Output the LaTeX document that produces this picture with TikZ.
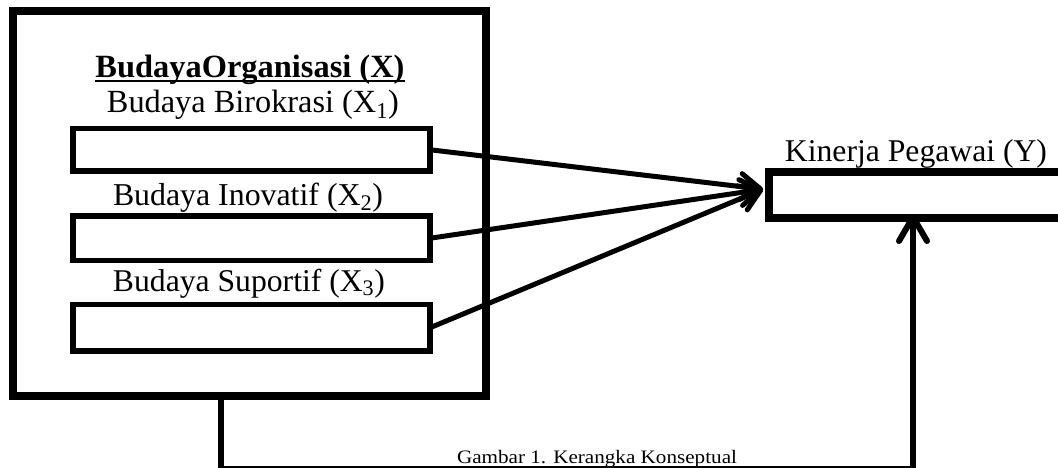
\documentclass[tikz,border=0pt]{standalone}
\usepackage{fontspec}
\setmainfont{Liberation Serif}
\usetikzlibrary{arrows.meta,calc}

% scale a line of text to a given width
\newcommand\fitw[2]{\resizebox{#1}{!}{#2}}
% stretch a line of text to a given width, keeping its height
\newcommand\fitwh[2]{\resizebox{#1}{\height}{#2}}
% text with a heavy rule under it
\newcommand\ulbox[1]{\setbox0\hbox{#1}\rlap{\rule[-3pt]{\wd0}{1.7pt}}\box0}

\begin{document}
\begin{tikzpicture}[x=1pt,y=-1pt,
  frame/.style={draw, line width=8pt, inner sep=0pt, outer sep=0pt},
  field/.style={draw, line width=5.5pt, inner sep=0pt, outer sep=0pt, minimum width=357pt},
  label/.style={anchor=base, inner sep=0pt, font=\fontsize{24}{28}\selectfont},
  note/.style={anchor=base, inner sep=0pt, font=\fontsize{19}{22}\selectfont},
  link/.style={line width=5pt, -{Straight Barb[length=20pt,width=26pt,round]}},
  feedback/.style={line width=6pt, line join=miter, -{Straight Barb[length=24pt,width=28pt,round]}}]

\useasboundingbox (0,0) rectangle (1058,468);

% organisational culture block
\node[frame, minimum width=473pt, minimum height=384.5pt] (org) at (249.5,203.75) {};
\node[label] (orgt) at (250,78) {\fitw{309pt}{\ulbox{\textbf{BudayaOrganisasi (X)}}}};

\node[label] (x1t) at (253,113) {\fitw{292pt}{Budaya Birokrasi (X\textsubscript{1})}};
\node[field, minimum height=42.5pt] (x1) at (251.5,149.75) {};

\node[label] (x2t) at (248,206) {\fitw{270pt}{Budaya Inovatif (X\textsubscript{2})}};
\node[field, minimum height=44.5pt] (x2) at (251.5,238.25) {};

\node[label] (x3t) at (249,291) {\fitw{272pt}{Budaya Suportif (X\textsubscript{3})}};
\node[field, minimum height=46.5pt] (x3) at (251.5,327.75) {};

% employee performance block (runs off the right edge)
\node[frame, minimum width=301pt, minimum height=45.5pt] (kin) at (919.5,195.25) {};
\node[label] (kint) at (916,162) {\fitw{262pt}{Kinerja Pegawai (Y)}};

% influence arrows
\coordinate (tip) at ($(kin.west)+(-6,-6)$);
\draw[link] (x1.east) -- (tip);
\draw[link] (x2.east) -- (tip);
\draw[link] (x3.east) -- (tip);

% loop from the culture block round to the performance block
\coordinate (lo) at (220.5,468.5);
\coordinate (ro) at (913,468.5);
\draw[feedback, shorten >=-4pt] (org.south -| lo) -- (lo) -- (ro) -- (kin.south -| ro);

\node[note] (cap) at (597,463) {\fitwh{280pt}{Gambar 1. Kerangka Konseptual}};
\end{tikzpicture}
\end{document}
